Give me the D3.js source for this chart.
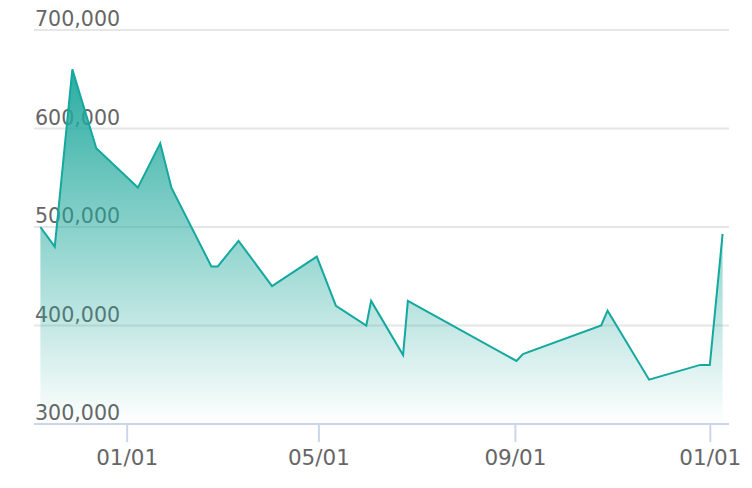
<!DOCTYPE html>
<html>
<head>
<meta charset="utf-8">
<script src="https://cdn.jsdelivr.net/npm/d3@7"></script>
<style>
  html, body { margin: 0; padding: 0; background: #ffffff; }
  #chart svg { display: block; }
</style>
</head>
<body>
<div id="chart"></div>
<script>
// values
const dates = [
    '2022-11-08', '2022-11-17', '2022-11-28', '2022-12-13', '2023-01-08',
    '2023-01-22', '2023-01-29', '2023-02-23', '2023-02-27', '2023-03-12',
    '2023-04-02', '2023-04-30', '2023-05-12', '2023-05-31', '2023-06-03',
    '2023-06-23', '2023-06-26', '2023-09-02', '2023-09-06', '2023-10-25',
    '2023-10-29', '2023-11-24', '2023-12-26', '2024-01-01', '2024-01-09'
];
const prices = [
    500000, 480000, 660000, 580000, 540000,
    585000, 540000, 460000, 460000, 486000,
    440000, 470000, 420000, 400000, 425000,
    370000, 425000, 364000, 371000, 400000,
    415000, 345000, 360000, 360000, 493000
];
const yTicks = [300000, 400000, 500000, 600000, 700000];
const xTicks = ['2023-01-01', '2023-05-01', '2023-09-01', '2024-01-01'];

const width = 752;
const height = 488;
const plot = { left: 34, right: 729, top: 30, bottom: 424 };
const lineColor = '#14a89e';

const parse = d3.utcParse('%Y-%m-%d');
const data = dates.map((d, i) => ({ date: parse(d), value: prices[i] }));

const x = d3.scaleUtc()
    .domain([parse('2022-11-04'), parse('2024-01-13')])
    .range([plot.left, plot.right]);
const y = d3.scaleLinear()
    .domain([300000, 700000])
    .range([plot.bottom, plot.top]);

const svg = d3.select('#chart')
    .append('svg')
    .attr('width', width)
    .attr('height', height)
    .attr('font-family', '"DejaVu Sans", sans-serif');

const grad = svg.append('defs')
    .append('linearGradient')
    .attr('id', 'areaFill')
    .attr('gradientUnits', 'userSpaceOnUse')
    .attr('x1', 0).attr('x2', 0)
    .attr('y1', y(d3.max(prices))).attr('y2', plot.bottom);
grad.append('stop').attr('offset', 0).attr('stop-color', '#1fa89c').attr('stop-opacity', 0.95);
grad.append('stop').attr('offset', 1).attr('stop-color', '#1fa89c').attr('stop-opacity', 0.0);

// grid lines + y labels
const yAxis = svg.append('g').attr('class', 'y-axis');
yAxis.selectAll('line')
    .data(yTicks.filter((t) => t > 300000))
    .join('line')
    .attr('x1', plot.left).attr('x2', plot.right)
    .attr('y1', (d) => y(d)).attr('y2', (d) => y(d))
    .attr('stroke', '#e6e6e6')
    .attr('stroke-width', 2);

// area + line
svg.append('path')
    .datum(data)
    .attr('fill', 'url(#areaFill)')
    .attr('d', d3.area()
        .x((d) => x(d.date))
        .y0(plot.bottom)
        .y1((d) => y(d.value)));

svg.append('path')
    .datum(data)
    .attr('fill', 'none')
    .attr('stroke', lineColor)
    .attr('stroke-width', 2)
    .attr('stroke-linejoin', 'miter')
    .attr('d', d3.line()
        .x((d) => x(d.date))
        .y((d) => y(d.value)));

yAxis.selectAll('text')
    .data(yTicks)
    .join('text')
    .attr('x', plot.left + 1)
    .attr('y', (d) => y(d) - 4)
    .attr('fill', '#666666')
    .attr('font-size', 20.6)
    .text((d) => d3.format(',')(d));

// x axis
const xAxis = svg.append('g')
    .attr('class', 'x-axis')
    .attr('transform', `translate(0,${plot.bottom})`)
    .call(d3.axisBottom(x)
        .tickValues(xTicks.map(parse))
        .tickSize(18)
        .tickPadding(8)
        .tickFormat(d3.utcFormat('%m/%d')));
xAxis.select('.domain')
    .attr('d', `M${plot.left},0H${plot.right}`)
    .attr('stroke', '#ccd6eb')
    .attr('stroke-width', 2);
xAxis.selectAll('.tick line')
    .attr('stroke', '#ccd6eb')
    .attr('stroke-width', 2);
xAxis.selectAll('.tick text')
    .attr('fill', '#666666')
    .attr('font-size', 21.5)
    .attr('font-family', '"DejaVu Sans", sans-serif');
</script>
</body>
</html>
